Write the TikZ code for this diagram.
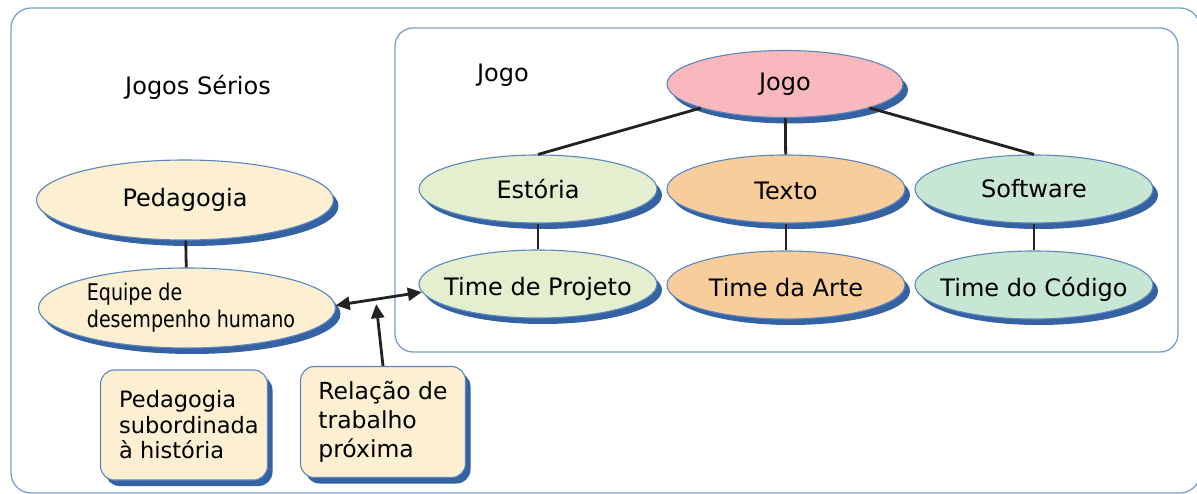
\documentclass[tikz,border=0pt]{standalone}
\usepackage{fontspec}
\setmainfont{DejaVu Sans}
\newfontfamily\condfont{DejaVu Sans}[FakeStretch=0.83]
\usetikzlibrary{shapes.geometric,shadows,arrows.meta,calc}
\definecolor{frameblue}{HTML}{7B9FCE}
\definecolor{ellborder}{HTML}{5B86BF}
\definecolor{shadowblue}{HTML}{3562A3}
\definecolor{cream}{HTML}{FCEFD2}
\definecolor{pinkfill}{HTML}{F8B8BD}
\definecolor{greenfill}{HTML}{E3EFCF}
\definecolor{orangefill}{HTML}{F8CD9C}
\definecolor{mintfill}{HTML}{C7E6D3}
\definecolor{linegray}{HTML}{222222}
\begin{document}
\begin{tikzpicture}[x=1pt,y=-1pt,
  frame/.style={draw=frameblue, line width=1.3pt, rounded corners=18pt},
  ell/.style={ellipse, draw=ellborder, line width=1.1pt, inner sep=0pt,
    minimum width=238pt, minimum height=68pt,
    general shadow={fill=shadowblue, shadow xshift=5pt, shadow yshift=-6pt}},
  bigell/.style={ell, minimum width=297pt, minimum height=80pt},
  txt/.style={font=\fontsize{24}{28}\selectfont, inner sep=0pt},
  box/.style={rectangle, draw=ellborder, line width=1.1pt, rounded corners=14pt,
    fill=cream, inner sep=0pt, align=left,
    general shadow={fill=shadowblue, shadow xshift=5pt, shadow yshift=-6pt, rounded corners=14pt}},
  conn/.style={draw=linegray, line width=2.8pt},
  arr/.style={draw=linegray, line width=2.8pt, -{Triangle[length=14pt,width=13pt]}},
  darr/.style={draw=linegray, line width=2.8pt, {Triangle[length=14pt,width=13pt]}-{Triangle[length=14pt,width=13pt]}},
  lbl/.style={font=\fontsize{24}{28}\selectfont, inner sep=0pt}
]
\useasboundingbox (0,0) rectangle (1197,494);
\fill[white] (0,0) rectangle (1197,494);
% frames
\draw[frame, rounded corners=20pt] (11,8) rectangle (1200,493);
\draw[frame] (395,28) rectangle (1178,352);
% labels
\node[lbl] (ljs) at (198,87) {Jogos Sérios};
\node[lbl] (ljogo) at (503,75) {Jogo};
% left ellipses
\node[bigell, fill=cream, label={[txt]center:Pedagogia}] (ped) at (185,200) {};
\node[bigell, fill=cream, label={[txt, align=left, xshift=4pt, font=\condfont\fontsize{23}{27}\selectfont]center:Equipe de\\desempenho humano}] (equipe) at (187,308) {};
% tree
\node[ell, fill=pinkfill, minimum width=236pt, minimum height=67pt, label={[txt]center:Jogo}] (jogo) at (785,84) {};
\node[ell, fill=greenfill, label={[txt]center:Estória}] (est) at (538,189) {};
\node[ell, fill=orangefill, label={[txt, yshift=-2pt]center:Texto}] (texto) at (786,189) {};
\node[ell, fill=mintfill, label={[txt]center:Software}] (soft) at (1034,189) {};
\node[ell, fill=greenfill, label={[txt, yshift=-5pt]center:Time de Projeto}] (tproj) at (538,284) {};
\node[ell, fill=orangefill, label={[txt, yshift=-3pt]center:Time da Arte}] (tarte) at (786,285) {};
\node[ell, fill=mintfill, label={[txt, yshift=-4pt]center:Time do Código}] (tcod) at (1034,285) {};
% boxes
\node[box, minimum width=167pt, minimum height=110pt,
  label={[font=\fontsize{22.5}{25.5}\selectfont, align=left, inner sep=0pt, anchor=west, xshift=19pt]west:Pedagogia\\subordinada\\à história}] (pbox) at (184,425) {};
\node[box, minimum width=165pt, minimum height=111pt, font=\fontsize{23.5}{29}\selectfont] (rel) at (383,422) {Relação de\\trabalho\\próxima};
% connectors
\draw[conn] (jogo) -- (est.north);
\draw[conn] (jogo) -- (texto);
\draw[conn] (jogo) -- (soft.north);
\draw[conn] (est) -- (tproj);
\draw[conn] (texto) -- (tarte);
\draw[conn] (soft) -- (tcod);
\draw[conn] (ped) -- (equipe);
\draw[darr] (equipe.1) -- (tproj.184);
\coordinate (mid) at ($(equipe.1)!0.47!(tproj.184)+(0,5)$);
\draw[arr] (rel.north) -- (mid);
\end{tikzpicture}
\end{document}
